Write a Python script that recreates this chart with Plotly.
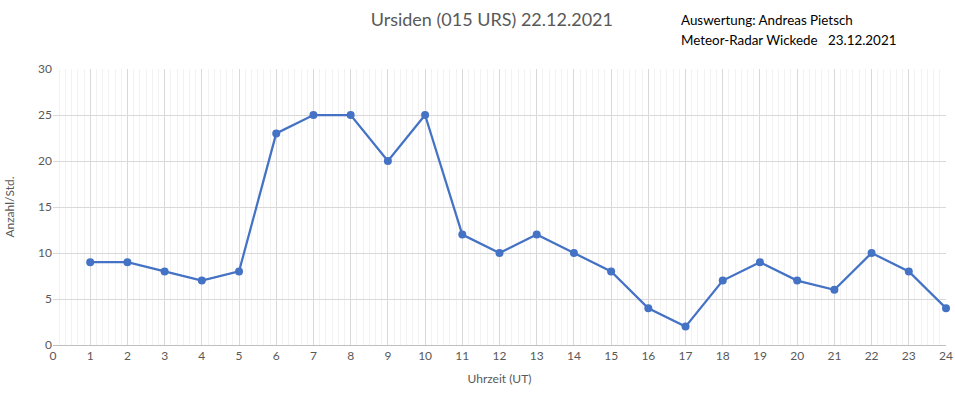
import plotly.graph_objects as go

hours = list(range(1, 25))
counts = [9, 9, 8, 7, 8, 23, 25, 25, 20, 25, 12, 10, 12, 10, 8, 4, 2, 7, 9, 7, 6, 10, 8, 4]
title_text = "Ursiden (015 URS) 22.12.2021"
note_lines = ["Auswertung: Andreas Pietsch", "Meteor-Radar Wickede   23.12.2021"]
x_title = "Uhrzeit (UT)"
y_title = "Anzahl/Std."

FONT = "Lato, 'Open Sans', sans-serif"

fig = go.Figure()
fig.add_trace(go.Scatter(
    x=hours, y=counts, mode="lines+markers",
    line=dict(color="#4472C4", width=2.25),
    marker=dict(color="#4472C4", size=8),
    showlegend=False, cliponaxis=False,
))

fig.update_layout(
    width=955, height=402,
    margin=dict(l=53, r=9, t=69, b=57),
    paper_bgcolor="white", plot_bgcolor="white",
    font=dict(family=FONT, color="#595959", size=12),
    title=dict(text=title_text, x=0.515, xanchor="center", y=0.95, yanchor="middle",
               font=dict(family=FONT, size=18, color="#595959")),
)
fig.update_xaxes(
    range=[0, 24], tickmode="linear", tick0=0, dtick=1, automargin=False,
    showgrid=True, gridcolor="#d9d9d9", gridwidth=1,
    minor=dict(tickmode="linear", tick0=0, dtick=1/6, showgrid=True, gridcolor="#f2f2f2", gridwidth=1),
    showline=True, linecolor="#bfbfbf", linewidth=1,
    zeroline=False, ticks="", tickfont=dict(size=12, color="#595959"),
    title=dict(text=x_title, font=dict(size=12, color="#595959"), standoff=12),
)
fig.update_yaxes(
    range=[0, 30], tickmode="linear", tick0=0, dtick=5, automargin=False,
    showgrid=True, gridcolor="#d9d9d9", gridwidth=1,
    zeroline=False, showline=False, ticks="",
    tickfont=dict(size=12, color="#595959"),
    title=dict(text=y_title, font=dict(size=12, color="#595959"), standoff=20),
)
for i, line in enumerate(note_lines):
    fig.add_annotation(
        text=line, xref="paper", yref="paper", x=(679 - 53) / 893, y=1 + (69 - (20 + i * 20)) / 276,
        xanchor="left", yanchor="middle", showarrow=False,
        font=dict(family=FONT, size=13.4, color="#000000"),
    )

fig.write_html("out.html")
